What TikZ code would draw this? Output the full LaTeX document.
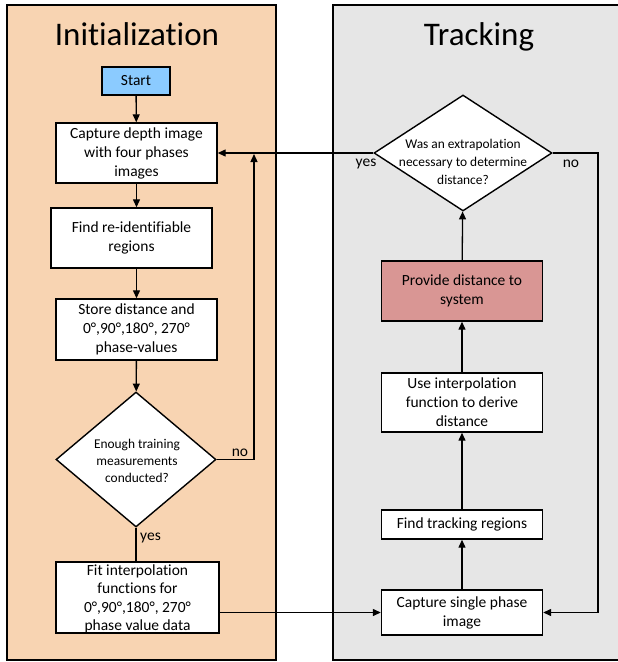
\documentclass[tikz,border=0pt]{standalone}
\usepackage{fontspec}
\setmainfont{Carlito}[Ligatures={NoCommon,NoRare,NoContextual}]
\usetikzlibrary{shapes.geometric,arrows.meta}
\definecolor{initfill}{HTML}{F8D4B2}
\definecolor{trackfill}{HTML}{E6E6E6}
\definecolor{startfill}{HTML}{8BCBFF}
\definecolor{outfill}{HTML}{D99694}
\newcommand{\bodyfont}{\fontsize{15.5}{19}\selectfont}
\newcommand{\askfont}{\fontsize{13.4}{17}\selectfont}
\newcommand{\headfont}{\fontsize{33}{38}\selectfont}
\begin{document}
\begin{tikzpicture}[x=1pt,y=-1pt,
  panel/.style={line width=1.8pt},
  box/.style={draw, line width=1.4pt, fill=white, align=center, inner sep=0pt, font=\bodyfont},
  boxtext/.style={align=center, inner sep=0pt, font=\bodyfont},
  ask/.style={draw, diamond, line width=1.4pt, fill=white, inner sep=0pt, aspect=1},
  asktext/.style={align=center, inner sep=0pt, font=\askfont},
  title/.style={anchor=base, font=\headfont},
  lbl/.style={font=\bodyfont, inner sep=0pt},
  conn/.style={line width=1.3pt},
  arr/.style={conn, -{Triangle[length=8pt,width=7pt]}}
]
\useasboundingbox (0,0) rectangle (618,662);

% swim lanes
\filldraw[panel, fill=initfill] (7,5) rectangle (276,660);
\fill[trackfill] (333,5) rectangle (618,660);
\draw[panel] (620,5) -- (333,5) -- (333,660) -- (620,660);
\node[title] (tinit) at (137,45) {Initialization};
\node[title] (ttrack) at (479,45) {Tracking};

% initialization flow
\node[box, fill=startfill, minimum width=68, minimum height=28] (start) at (136,81) {Start};
\node[box, minimum width=161, minimum height=60] (cap) at (136.5,153) {Capture depth image\\with four phases\\images};
\node[box, minimum width=161, minimum height=60] (find) at (131.5,238) {Find re-identifiable\\regions};
\node[box, minimum width=161, minimum height=61] (store) at (136.5,329.5) {Store distance and\\0°,90°,180°, 270°\\phase-values};
\node[ask, minimum width=160, minimum height=135] (enough) at (136,459.5) {};
\node[asktext] (enoughtxt) at (137,461) {Enough training\\measurements\\conducted?};
\node[box, minimum width=163, minimum height=71] (fit) at (137.5,597.5) {};
\node[boxtext, font=\fontsize{15.5}{18.5}\selectfont] (fittxt) at (137.5,599) {Fit interpolation\\functions for\\0°,90°,180°, 270°\\phase value data};

% tracking flow
\node[ask, minimum width=178, minimum height=116] (extra) at (463,153) {};
\node[asktext, font=\fontsize{13.4}{18}\selectfont] (extratxt) at (463,162) {Was an extrapolation\\necessary to determine\\distance?};
\node[box, fill=outfill, minimum width=161, minimum height=60] (provide) at (462,291) {Provide distance to\\system};
\node[box, minimum width=161, minimum height=59] (interp) at (462,402.5) {Use interpolation\\function to derive\\distance};
\node[box, minimum width=161, minimum height=29] (track) at (462,524.5) {Find tracking regions};
\node[box, minimum width=161, minimum height=45] (single) at (462,612.5) {Capture single phase\\image};

% connectors, initialization
\draw[arr] (start) -- (cap);
\draw[arr] (cap.south) -- (cap.south |- find.north);
\draw[arr] (cap.south |- find.south) -- (store.north);
\draw[arr] (store) -- (enough);
\draw[conn] (enough.south) -- (enough.south |- fit.north);
\coordinate (lloop) at (254,154);
\draw[arr] (enough.east) -| (lloop);
\node[lbl, anchor=south] (lno) at (240,457) {no};
\node[lbl, anchor=west] (lyes) at (140,538) {yes};

% connectors, tracking
\draw[arr] (fit.east |- single.west) -- (single.west);
\draw[arr] (single) -- (track);
\draw[arr] (track) -- (interp);
\draw[arr] (interp) -- (provide);
\draw[arr] (provide) -- (extra);
\draw[arr] (extra.west) -- (cap.east);
\coordinate (rloop) at (598,153);
\draw[arr] (extra.east) -- (rloop) |- (single.east);
\node[lbl] (ryes) at (366,164) {yes};
\node[lbl] (rno) at (571,164) {no};
\end{tikzpicture}
\end{document}
